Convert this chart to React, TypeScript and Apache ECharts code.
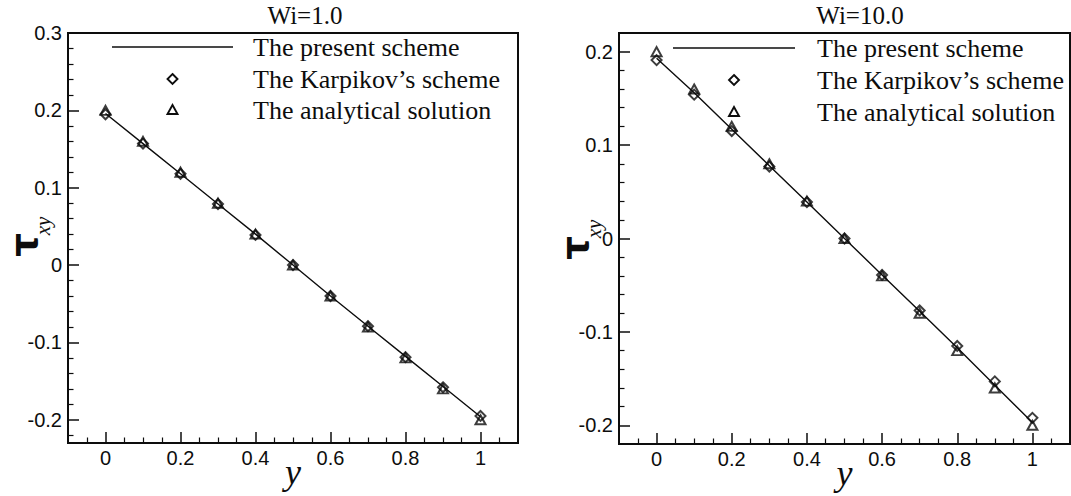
import React, { useEffect, useRef } from "react";
import * as echarts from "echarts";

// Sample positions across the channel
const yPositions = [0, 0.1, 0.2, 0.3, 0.4, 0.5, 0.6, 0.7, 0.8, 0.9, 1.0];

// Wi = 1.0
const wi1Present = [0.196, 0.157, 0.118, 0.079, 0.04, 0, -0.04, -0.079, -0.118, -0.157, -0.196];
const wi1Karpikov = [0.195, 0.157, 0.118, 0.079, 0.039, 0, -0.04, -0.079, -0.119, -0.158, -0.195];
const wi1Analytical = [0.2, 0.16, 0.12, 0.08, 0.04, 0, -0.04, -0.08, -0.12, -0.16, -0.2];

// Wi = 10.0
const wi10Present = [0.193, 0.156, 0.117, 0.078, 0.039, 0, -0.039, -0.078, -0.117, -0.157, -0.197];
const wi10Karpikov = [0.191, 0.154, 0.115, 0.077, 0.039, 0, -0.039, -0.077, -0.115, -0.153, -0.192];
const wi10Analytical = [0.2, 0.16, 0.12, 0.08, 0.04, 0, -0.04, -0.08, -0.12, -0.16, -0.2];

// Tick positions
const xMajorTicks = [0, 0.2, 0.4, 0.6, 0.8, 1];
const xMinorTicks = [-0.05, 0.05, 0.1, 0.15, 0.25, 0.3, 0.35, 0.45, 0.5, 0.55, 0.65, 0.7, 0.75, 0.85, 0.9, 0.95, 1.05];
const leftYMajorTicks = [-0.2, -0.1, 0, 0.1, 0.2, 0.3];
const leftYMinorTicks = [-0.22, -0.18, -0.16, -0.14, -0.12, -0.08, -0.06, -0.04, -0.02, 0.02, 0.04, 0.06, 0.08, 0.12, 0.14, 0.16, 0.18, 0.22, 0.24, 0.26, 0.28];
const rightYMajorTicks = [-0.2, -0.1, 0, 0.1, 0.2];
const rightYMinorTicks = [-0.18, -0.16, -0.14, -0.12, -0.08, -0.06, -0.04, -0.02, 0.02, 0.04, 0.06, 0.08, 0.12, 0.14, 0.16, 0.18];

const panelTitles = ["Wi=1.0", "Wi=10.0"];
const seriesNames = ["The present scheme", "The Karpikov\u2019s scheme", "The analytical solution"];

const INK = "#0d0d0d";
const SERIF = "'Liberation Serif', 'Times New Roman', serif";
const SANS = "'Liberation Sans', Arial, sans-serif";

const zip = (xs: number[], ys: number[]) => xs.map((x, i) => [x, ys[i]]);

function mainXAxis(gridIndex: number) {
  return {
    type: "value",
    gridIndex,
    min: -0.1,
    max: 1.1,
    position: "bottom",
    axisLine: { show: true, onZero: false, lineStyle: { color: INK, width: 2 } },
    axisTick: { show: true, inside: true, length: 11, customValues: xMajorTicks, lineStyle: { color: INK, width: 1.5 } },
    axisLabel: { customValues: xMajorTicks, fontFamily: SANS, fontSize: 20, color: INK, margin: 5 },
    splitLine: { show: false },
    name: "y",
    nameLocation: "middle",
    nameGap: 11,
    nameMoveOverlap: false,
    nameTextStyle: { fontFamily: SERIF, fontStyle: "italic", fontSize: 36, color: INK },
  };
}

function minorXAxis(gridIndex: number) {
  return {
    type: "value",
    gridIndex,
    min: -0.1,
    max: 1.1,
    position: "bottom",
    axisLine: { show: false, onZero: false },
    axisTick: { show: true, inside: true, length: 5.5, customValues: xMinorTicks, lineStyle: { color: INK, width: 1.2 } },
    axisLabel: { show: false },
    splitLine: { show: false },
  };
}

function mainYAxis(gridIndex: number, min: number, max: number, ticks: number[]) {
  return {
    type: "value",
    gridIndex,
    min,
    max,
    position: "left",
    axisLine: { show: true, onZero: false, lineStyle: { color: INK, width: 2 } },
    axisTick: { show: true, inside: true, length: 11, customValues: ticks, lineStyle: { color: INK, width: 1.5 } },
    axisLabel: { customValues: ticks, fontFamily: SANS, fontSize: 20, color: INK, margin: 6 },
    splitLine: { show: false },
  };
}

function minorYAxis(gridIndex: number, min: number, max: number, ticks: number[]) {
  return {
    type: "value",
    gridIndex,
    min,
    max,
    position: "left",
    axisLine: { show: false, onZero: false },
    axisTick: { show: true, inside: true, length: 5.5, customValues: ticks, lineStyle: { color: INK, width: 1.2 } },
    axisLabel: { show: false },
    splitLine: { show: false },
  };
}

const markerStyle = { color: "rgba(0,0,0,0)", borderColor: INK, borderWidth: 2 };

function panelSeries(axisIndex: number, present: number[], karpikov: number[], analytical: number[]) {
  return [
    {
      type: "line",
      name: seriesNames[0],
      xAxisIndex: axisIndex,
      yAxisIndex: axisIndex,
      data: zip(yPositions, present),
      symbol: "none",
      lineStyle: { color: INK, width: 1.4 },
      itemStyle: { color: INK },
      silent: true,
      z: 2,
    },
    {
      type: "scatter",
      name: seriesNames[1],
      xAxisIndex: axisIndex,
      yAxisIndex: axisIndex,
      data: zip(yPositions, karpikov),
      symbol: "diamond",
      symbolSize: [10, 10],
      itemStyle: markerStyle,
      silent: true,
      z: 3,
    },
    {
      type: "scatter",
      name: seriesNames[2],
      xAxisIndex: axisIndex,
      yAxisIndex: axisIndex,
      data: zip(yPositions, analytical),
      symbol: "triangle",
      symbolSize: [10, 9],
      itemStyle: markerStyle,
      silent: true,
      z: 3,
    },
  ];
}

// Key drawn inside each panel: sample line, diamond and triangle followed by the series names
function panelKey(lineX0: number, lineX1: number, textX: number, rows: number[]) {
  const cx = (lineX0 + lineX1) / 2;
  const stroke = { stroke: INK, lineWidth: 1.9, fill: "none" };
  const textStyle = (i: number) => ({
    type: "text",
    x: textX,
    y: rows[i],
    style: { text: seriesNames[i], font: `26px ${SERIF}`, fill: INK, align: "left", verticalAlign: "middle" },
  });
  return [
    { type: "line", shape: { x1: lineX0, y1: rows[0], x2: lineX1, y2: rows[0] }, style: { stroke: INK, lineWidth: 1.4 } },
    {
      type: "polygon",
      shape: { points: [[cx, rows[1] - 5], [cx + 5, rows[1]], [cx, rows[1] + 5], [cx - 5, rows[1]]] },
      style: stroke,
    },
    {
      type: "polygon",
      shape: { points: [[cx, rows[2] - 5], [cx + 5, rows[2] + 4], [cx - 5, rows[2] + 4]] },
      style: stroke,
    },
    textStyle(0),
    textStyle(1),
    textStyle(2),
  ];
}

// Vertical axis title: tau with an italic "xy" subscript, reading bottom to top
function tauLabel(tx: number, ty: number) {
  return [
    {
      type: "text",
      x: tx,
      y: ty,
      rotation: Math.PI / 2,
      style: { text: "\u03c4", font: `bold 37px 'DejaVu Sans', sans-serif`, fill: INK, align: "center", verticalAlign: "middle" },
    },
    {
      type: "text",
      x: tx + 19,
      y: ty - 19,
      rotation: Math.PI / 2,
      style: { text: "xy", font: `italic 21px ${SERIF}`, fill: INK, align: "center", verticalAlign: "middle" },
    },
  ];
}

export default function App() {
  const ref = useRef<HTMLDivElement>(null);

  useEffect(() => {
    if (!ref.current) return;
    const chart = echarts.init(ref.current, null, { renderer: "svg" });
    chart.setOption({
      animation: false,
      backgroundColor: "#ffffff",
      grid: [
        { left: 68, top: 33, width: 450, height: 410, outerBoundsMode: "none", containLabel: false, show: true, borderColor: INK, borderWidth: 2, backgroundColor: "transparent" },
        { left: 619, top: 33, width: 451, height: 411, outerBoundsMode: "none", containLabel: false, show: true, borderColor: INK, borderWidth: 2, backgroundColor: "transparent" },
      ],
      xAxis: [mainXAxis(0), minorXAxis(0), mainXAxis(1), minorXAxis(1)],
      yAxis: [
        mainYAxis(0, -0.23, 0.3, leftYMajorTicks),
        minorYAxis(0, -0.23, 0.3, leftYMinorTicks),
        mainYAxis(1, -0.22, 0.22, rightYMajorTicks),
        minorYAxis(1, -0.22, 0.22, rightYMinorTicks),
      ],
      graphic: [
        { type: "text", x: 305, y: 15, style: { text: panelTitles[0], font: `25px ${SERIF}`, fill: INK, align: "center", verticalAlign: "middle" } },
        { type: "text", x: 860, y: 15, style: { text: panelTitles[1], font: `25px ${SERIF}`, fill: INK, align: "center", verticalAlign: "middle" } },
        ...panelKey(112, 233, 253, [47, 79, 110]),
        ...panelKey(673, 795, 817, [48, 80, 112]),
        ...tauLabel(24, 245),
        ...tauLabel(575, 248),
      ],
      series: [
        ...panelSeries(0, wi1Present, wi1Karpikov, wi1Analytical),
        ...panelSeries(2, wi10Present, wi10Karpikov, wi10Analytical),
      ],
    });
    return () => chart.dispose();
  }, []);

  return <div ref={ref} style={{ position: "fixed", left: 0, top: 0, width: 1071, height: 496 }} />;
}
